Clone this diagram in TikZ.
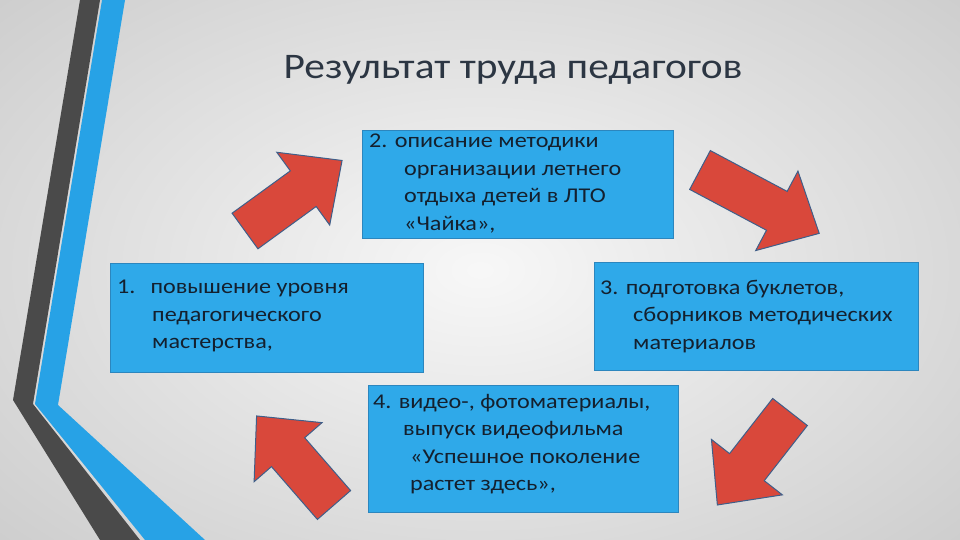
\documentclass[tikz,border=0pt]{standalone}
\usepackage{fontspec}
\setmainfont{Carlito}[FakeStretch=1.15]
\begin{document}
\begin{tikzpicture}[x=1pt,y=1pt,
  box/.style={fill=boxblue,draw=boxedge,line width=0.8pt},
  txt/.style={anchor=north west,align=left,inner sep=0pt,text=txtc,font=\fontsize{21}{27.5}\selectfont},
  redarr/.style={fill=arred,draw=arredge,line width=1pt}]
\definecolor{boxblue}{HTML}{2FA9E9}
\definecolor{boxedge}{HTML}{2C86BE}
\definecolor{txtc}{HTML}{14202E}
\definecolor{arred}{HTML}{D9483B}
\definecolor{arredge}{HTML}{3E5F8A}
\definecolor{dband}{HTML}{4A4A4A}
\definecolor{bband}{HTML}{27A2E6}
\useasboundingbox (0,0) rectangle (960,540);
\shade[inner color=gray!6,outer color=gray!40] (-200,-150) rectangle (1160,690);
% left decoration
\fill[dband] (80,540) -- (100,540) -- (33,136) -- (140,0) -- (100,0) -- (13,140) -- cycle;
\fill[bband] (102,540) -- (125,540) -- (58,135) -- (205,0) -- (145,0) -- (35,136) -- cycle;
% title
\node (title) at (513,470) {\fontsize{36}{40}\selectfont\color{txtc!90}Результат труда педагогов};
% boxes
\node[box,minimum width=311pt,minimum height=108pt,anchor=north west] (b2) at (362,410) {};
\node[box,minimum width=313pt,minimum height=109pt,anchor=north west] (b1) at (110,277) {};
\node[box,minimum width=324pt,minimum height=108pt,anchor=north west] (b3) at (594,278) {};
\node[box,minimum width=310pt,minimum height=127pt,anchor=north west] (b4) at (368,155) {};
\node[txt] (t2) at (369,406) {2. описание методики\\\hspace*{35pt}организации летнего\\\hspace*{35pt}отдыха детей в ЛТО\\\hspace*{35pt}«Чайка»,};
\node[txt] (t1) at (117,260) {1.\hspace*{15pt}повышение уровня\\\hspace*{35pt}педагогического\\\hspace*{35pt}мастерства,};
\node[txt] (t3) at (600,260) {3. подготовка буклетов,\\\hspace*{33pt}сборников методических\\\hspace*{33pt}материалов};
\node[txt] (t4) at (373,146) {4. видео-, фотоматериалы,\\\hspace*{30pt}выпуск видеофильма\\\hspace*{37pt}«Успешное поколение\\\hspace*{37pt}растет здесь»,};
% arrows
\newcommand\myarrow[4]{\begin{scope}[shift={(#1,#2)},rotate=#3]
 \draw[redarr] (0,-22) -- (#4-48,-22) -- (#4-48,-45) -- (#4,0) -- (#4-48,45) -- (#4-48,22) -- (0,22) -- cycle;
\end{scope}}
\myarrow{245}{309}{36}{120}
\myarrow{700}{370}{-28}{135}
\myarrow{790}{128}{-128}{118}
\myarrow{334}{35}{131}{118}
\end{tikzpicture}
\end{document}
